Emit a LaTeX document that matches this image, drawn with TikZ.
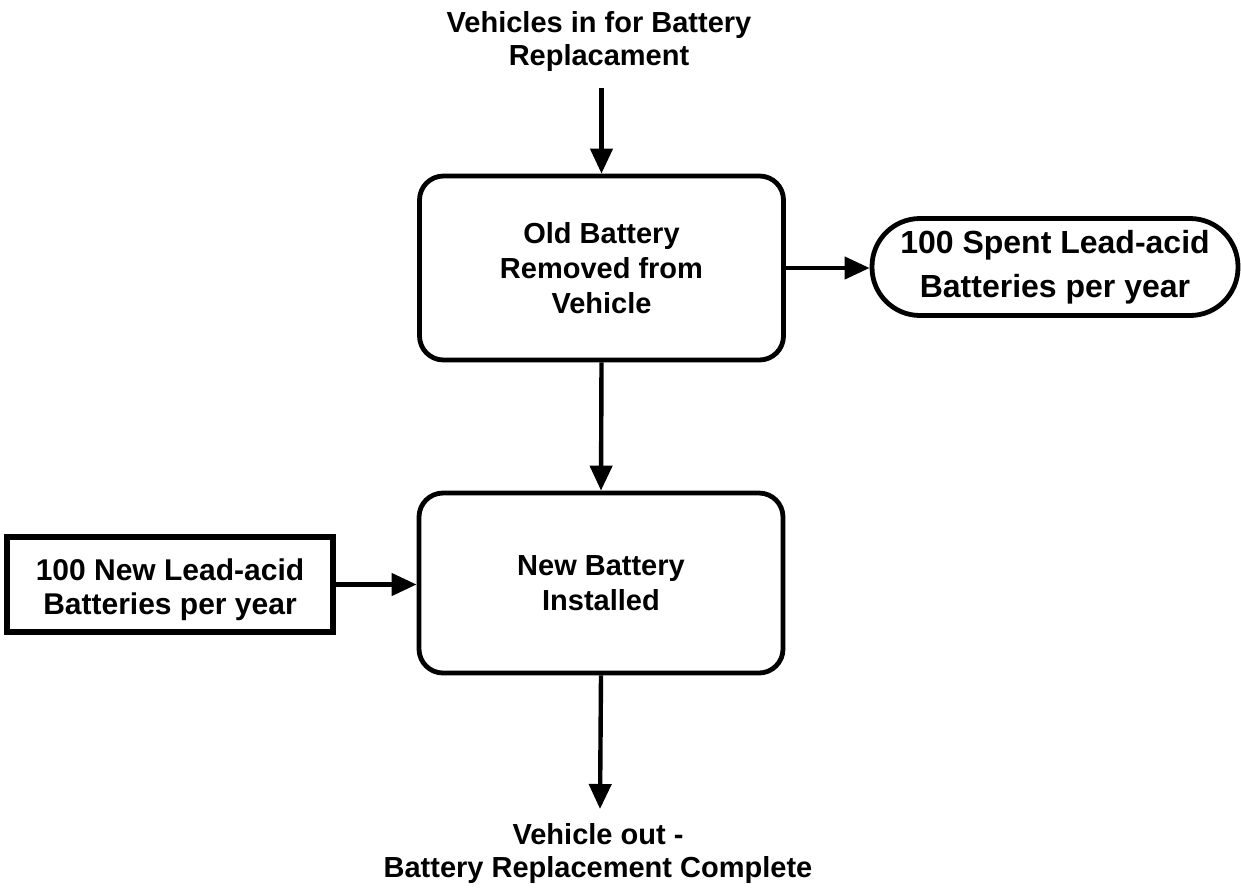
\documentclass[tikz,border=0pt]{standalone}
\usepackage{fontspec}
\setmainfont{Liberation Sans}
\usetikzlibrary{arrows.meta}
\begin{document}
\begin{tikzpicture}[x=0.5pt,y=-0.5pt,
  every node/.style={font=\bfseries\fontsize{14.5}{17.5}\selectfont, align=center, inner sep=0pt},
  procbox/.style={draw, line width=2.4pt, rounded corners=12pt, minimum width=182pt, minimum height=92pt},
  stadium/.style={draw, line width=2.4pt, rounded corners=24pt, minimum width=183pt, minimum height=48.5pt, font=\bfseries\fontsize{16}{22}\selectfont},
  srcbox/.style={draw, line width=2.6pt, minimum width=163pt, minimum height=47.5pt, font=\bfseries\fontsize{15}{17}\selectfont},
  flow/.style={line width=2.2pt, -{Triangle[length=12.5pt,width=11pt]}},
  lbl/.style={font=\bfseries\fontsize{14.5}{16.5}\selectfont}
]
\fill[white] (0,0) rectangle (1241,890);
\node[lbl] (in) at (599,41) {Vehicles in for Battery\\Replacament};
\node[procbox] (old) at (601.5,268) {Old Battery\\Removed from\\Vehicle};
\node[stadium] (spent) at (1055,267) {100 Spent Lead-acid\\Batteries per year};
\node[procbox, minimum height=90pt] (new) at (601,583) {New Battery\\Installed};
\node[srcbox] (newbat) at (170,584.5) {\raisebox{-2.5pt}[\height][\depth]{\parbox{160pt}{\centering 100 New Lead-acid\\Batteries per year}}};
\node[lbl] (out) at (598,853) {Vehicle out -\\Battery Replacement Complete};
\coordinate (inend) at (601.5,88);
\coordinate (outend) at (600,809);
\draw[flow] (inend) -- (old.north);
\draw[flow] (old.east) -- (old.east -| spent.west);
\draw[flow] (old.south) -- (new.north);
\draw[flow] (newbat.east) -- (newbat.east -| new.west);
\draw[flow] (new.south) -- (outend);
\end{tikzpicture}
\end{document}
